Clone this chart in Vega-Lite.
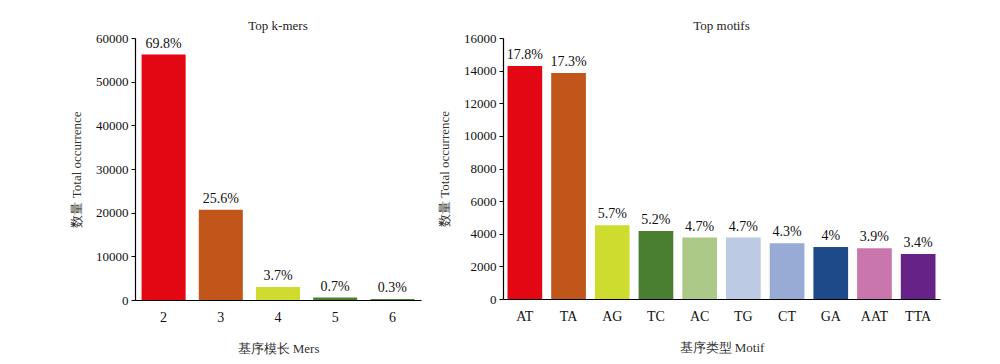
{
  "$schema": "https://vega.github.io/schema/vega-lite/v6.json",
  "padding": {"left": 70, "top": 20, "right": 5, "bottom": 5},
  "spacing": 17,
  "resolve": {"scale": {"color": "independent"}},
  "config": {
    "font": "Liberation Serif",
    "view": {"stroke": null},
    "title": {"font": "Liberation Serif", "fontSize": 13, "fontWeight": "normal", "color": "#222", "offset": 4, "dy": 5},
    "axis": {
      "labelFont": "Liberation Serif", "titleFont": "Liberation Serif",
      "labelFontSize": 13, "titleFontSize": 13, "titleFontWeight": "normal",
      "labelColor": "#111", "titleColor": "#333", "domainColor": "#000", "tickColor": "#000",
      "grid": false, "domainWidth": 1.2
    }
  },
  "hconcat": [
    {
      "title": "Top k-mers",
      "width": 286, "height": 262,
      "data": {"values": [
        {"mer": "2", "count": 56200, "pct": "69.8%"},
        {"mer": "3", "count": 20650, "pct": "25.6%"},
        {"mer": "4", "count": 3000, "pct": "3.7%"},
        {"mer": "5", "count": 560, "pct": "0.7%"},
        {"mer": "6", "count": 240, "pct": "0.3%"}
      ]},
      "encoding": {
        "x": {"field": "mer", "type": "nominal", "sort": null,
              "scale": {"paddingInner": 0.23, "paddingOuter": 0.115},
              "axis": {"title": "基序模长 Mers", "labelAngle": 0, "ticks": false, "labelPadding": 10, "titlePadding": 18, "labelFontSize": 14}},
        "y": {"field": "count", "type": "quantitative",
              "scale": {"domain": [0, 60000], "nice": false},
              "axis": {"title": "数量 Total occurrence", "format": "d", "values": [0, 10000, 20000, 30000, 40000, 50000, 60000], "tickSize": 4, "labelPadding": 3, "titlePadding": 12}}
      },
      "layer": [
        {"mark": {"type": "bar"},
         "encoding": {"color": {"field": "mer", "type": "nominal", "legend": null,
           "scale": {"domain": ["2", "3", "4", "5", "6"], "range": ["#e30613", "#c0561a", "#cddc2e", "#4a7f32", "#4a7f32"]}}}},
        {"mark": {"type": "text", "dy": -11, "fontSize": 14, "color": "#111"},
         "encoding": {"text": {"field": "pct"}}}
      ]
    },
    {
      "title": "Top motifs",
      "width": 437, "height": 261,
      "data": {"values": [
        {"motif": "AT", "count": 14280, "pct": "17.8%"},
        {"motif": "TA", "count": 13850, "pct": "17.3%"},
        {"motif": "AG", "count": 4520, "pct": "5.7%"},
        {"motif": "TC", "count": 4170, "pct": "5.2%"},
        {"motif": "AC", "count": 3770, "pct": "4.7%"},
        {"motif": "TG", "count": 3770, "pct": "4.7%"},
        {"motif": "CT", "count": 3420, "pct": "4.3%"},
        {"motif": "GA", "count": 3190, "pct": "4%"},
        {"motif": "AAT", "count": 3110, "pct": "3.9%"},
        {"motif": "TTA", "count": 2760, "pct": "3.4%"}
      ]},
      "encoding": {
        "x": {"field": "motif", "type": "nominal", "sort": null,
              "scale": {"paddingInner": 0.206, "paddingOuter": 0.103},
              "axis": {"title": "基序类型 Motif", "labelAngle": 0, "ticks": false, "labelPadding": 10, "titlePadding": 18, "labelFontSize": 14}},
        "y": {"field": "count", "type": "quantitative",
              "scale": {"domain": [0, 16000], "nice": false},
              "axis": {"title": "数量 Total occurrence", "format": "d", "values": [0, 2000, 4000, 6000, 8000, 10000, 12000, 14000, 16000], "tickSize": 4, "labelPadding": 3, "titlePadding": 12}}
      },
      "layer": [
        {"mark": {"type": "bar"},
         "encoding": {"color": {"field": "motif", "type": "nominal", "legend": null,
           "scale": {"domain": ["AT", "TA", "AG", "TC", "AC", "TG", "CT", "GA", "AAT", "TTA"],
                     "range": ["#e30613", "#c0561a", "#cddc2e", "#4a7f32", "#acc987", "#bccae4", "#98abd5", "#1f4a8a", "#c876ab", "#662287"]}}}},
        {"mark": {"type": "text", "dy": -11, "fontSize": 14, "color": "#111"},
         "encoding": {"text": {"field": "pct"}}}
      ]
    }
  ]
}
